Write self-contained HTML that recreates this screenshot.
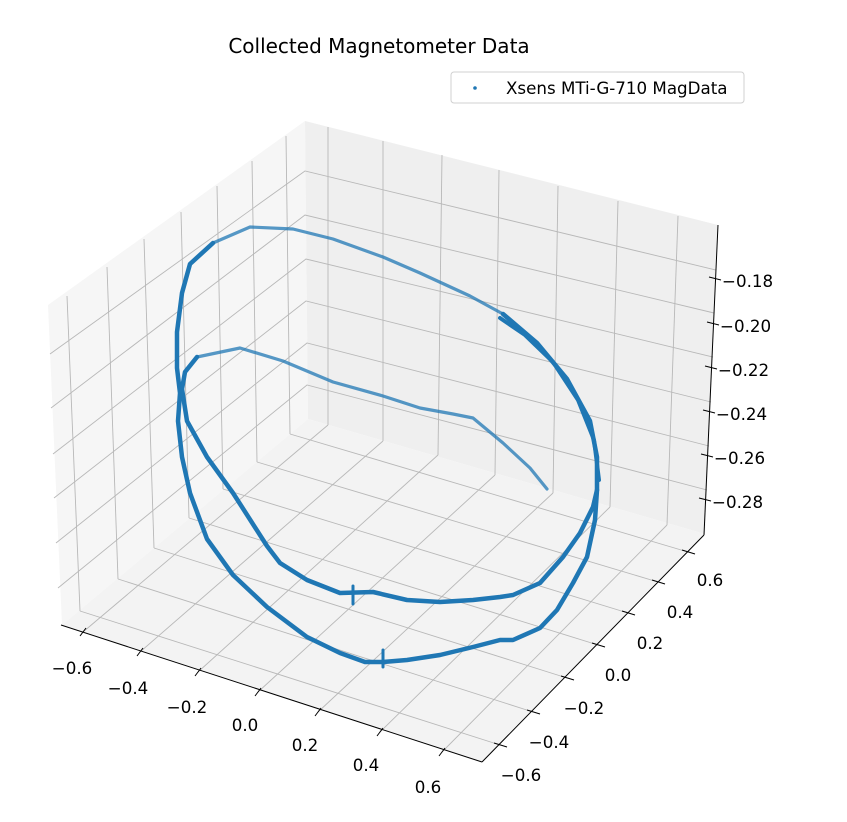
<!DOCTYPE html>
<html><head><meta charset="utf-8"><style>
html,body{margin:0;padding:0;background:#fff;}
svg{display:block;font-family:"DejaVu Sans","Liberation Sans",sans-serif;}
</style></head><body>
<svg width="847" height="822" viewBox="0 0 847 822" xmlns="http://www.w3.org/2000/svg">
<rect width="847" height="822" fill="#fff"/>
<polygon points="62,625 48,305 305,121 308,419" fill="#f6f6f6"/>
<polygon points="308,419 305,121 718,225 705,534" fill="#efefef"/>
<polygon points="62,625 308,419 705,534 482,762" fill="#f3f3f3"/>
<g stroke="#b8b8b8" stroke-width="0.9" fill="none">
<line x1="67" y1="296" x2="80" y2="611"/>
<line x1="107" y1="267" x2="118" y2="579"/>
<line x1="144" y1="239" x2="154" y2="548"/>
<line x1="181" y1="212" x2="189" y2="518"/>
<line x1="217" y1="186" x2="223" y2="489"/>
<line x1="252" y1="161" x2="257" y2="462"/>
<line x1="286" y1="136" x2="290" y2="434"/>
<line x1="328" y1="127" x2="328" y2="425"/>
<line x1="383" y1="141" x2="383" y2="441"/>
<line x1="442" y1="155" x2="438" y2="455"/>
<line x1="499" y1="170" x2="495" y2="475"/>
<line x1="558" y1="186" x2="553" y2="493"/>
<line x1="618" y1="201" x2="610" y2="507"/>
<line x1="678" y1="216" x2="667" y2="525"/>
<polyline points="50,354 305,171 716,270"/>
<polyline points="51,408 305,215 714,313"/>
<polyline points="53,454 306,259 713,357"/>
<polyline points="54,498 306,301 711,402"/>
<polyline points="56,543 307,343 709,446"/>
<polyline points="58,588 307,385 707,490"/>
<line x1="328" y1="425" x2="83" y2="632"/>
<line x1="383" y1="441" x2="140" y2="652"/>
<line x1="438" y1="455" x2="198" y2="672"/>
<line x1="495" y1="475" x2="258" y2="692"/>
<line x1="553" y1="493" x2="318" y2="712"/>
<line x1="610" y1="507" x2="380" y2="732"/>
<line x1="667" y1="525" x2="442" y2="752"/>
<line x1="80" y1="611" x2="500" y2="745"/>
<line x1="118" y1="579" x2="533" y2="712"/>
<line x1="154" y1="548" x2="567" y2="678"/>
<line x1="189" y1="518" x2="598" y2="645"/>
<line x1="223" y1="489" x2="628" y2="613"/>
<line x1="257" y1="462" x2="658" y2="582"/>
<line x1="290" y1="434" x2="688" y2="552"/>
</g>
<g stroke="#000" stroke-width="1" fill="none">
<line x1="61" y1="625" x2="482" y2="762"/>
<line x1="482" y1="762" x2="704" y2="535"/>
<line x1="704" y1="535" x2="718" y2="225"/>
<line x1="86" y1="628" x2="80" y2="636"/>
<line x1="143" y1="648" x2="137" y2="656"/>
<line x1="201" y1="668" x2="195" y2="676"/>
<line x1="261" y1="688" x2="255" y2="696"/>
<line x1="321" y1="708" x2="315" y2="716"/>
<line x1="383" y1="728" x2="377" y2="736"/>
<line x1="445" y1="748" x2="439" y2="756"/>
<line x1="494" y1="743" x2="507" y2="747"/>
<line x1="527" y1="710" x2="540" y2="714"/>
<line x1="561" y1="676" x2="574" y2="680"/>
<line x1="592" y1="643" x2="605" y2="647"/>
<line x1="622" y1="611" x2="635" y2="615"/>
<line x1="652" y1="580" x2="665" y2="584"/>
<line x1="682" y1="550" x2="695" y2="554"/>
<line x1="709" y1="277" x2="721" y2="280"/>
<line x1="707" y1="322" x2="719" y2="325"/>
<line x1="705" y1="366" x2="717" y2="369"/>
<line x1="703" y1="410" x2="715" y2="413"/>
<line x1="701" y1="454" x2="713" y2="457"/>
<line x1="699" y1="498" x2="711" y2="501"/>
</g>
<g font-size="16.7" fill="#000" text-anchor="middle" dominant-baseline="central">
<text x="72" y="668">−0.6</text>
<text x="128" y="688">−0.4</text>
<text x="187" y="707">−0.2</text>
<text x="245" y="725">0.0</text>
<text x="305" y="745">0.2</text>
<text x="366" y="765">0.4</text>
<text x="428" y="787">0.6</text>
<text x="521" y="775">−0.6</text>
<text x="549" y="742">−0.4</text>
<text x="584" y="708">−0.2</text>
<text x="618" y="675">0.0</text>
<text x="650" y="643">0.2</text>
<text x="680" y="612">0.4</text>
<text x="710" y="580">0.6</text>
</g>
<g font-size="16.7" fill="#000" dominant-baseline="central">
<text x="722" y="281">−0.18</text>
<text x="720" y="326">−0.20</text>
<text x="718" y="370">−0.22</text>
<text x="716" y="414">−0.24</text>
<text x="714" y="458">−0.26</text>
<text x="712" y="502">−0.28</text>
</g>
<g fill="none" stroke="#1f77b4" stroke-linejoin="round" stroke-linecap="round">
<polyline stroke-width="3.2" opacity="0.75" points="213,243 250,227 293,229 333,239 383,257 420,273 470,296 503,314"/>
<polyline stroke-width="3.2" opacity="0.75" points="197,357 240,348 283,361 333,382 383,396 420,408 453,414 473,418 503,443 530,468 547,489"/>
<polyline stroke-width="4.5" points="213,243 190,264 182,293 177,332 177,368 180,393 178,421 182,457 190,493 207,539 233,575 267,607 307,637 340,653 365,662 383,662 407,660 440,655 473,647 500,640 513,640 540,628 557,610 573,583 587,557 595,520 597,490 597,457 590,421 567,379 537,343 503,314"/>
<polyline stroke-width="4" points="599,480 594,440 578,400 553,362 525,335 500,318"/>
<polyline stroke-width="4.5" points="197,357 185,372 182,389 187,421 207,457 233,493 267,546 280,563 307,580 340,593 373,592 407,600 440,602 473,600 500,597 513,595 540,583 563,557 580,533 593,507 597,490"/>
<polyline stroke-width="3" points="383,650 383,667"/>
<polyline stroke-width="3" points="353,586 353,604"/>
</g>
<text x="379" y="53" font-size="20" text-anchor="middle" fill="#000">Collected Magnetometer Data</text>
<rect x="451" y="72" width="293" height="31" rx="3" fill="#fff" fill-opacity="0.8" stroke="#d0d0d0"/>
<circle cx="475" cy="88" r="1.8" fill="#1f77b4"/>
<text x="506" y="88" font-size="16.7" dominant-baseline="central" fill="#000">Xsens MTi-G-710 MagData</text>
</svg>
</body></html>
